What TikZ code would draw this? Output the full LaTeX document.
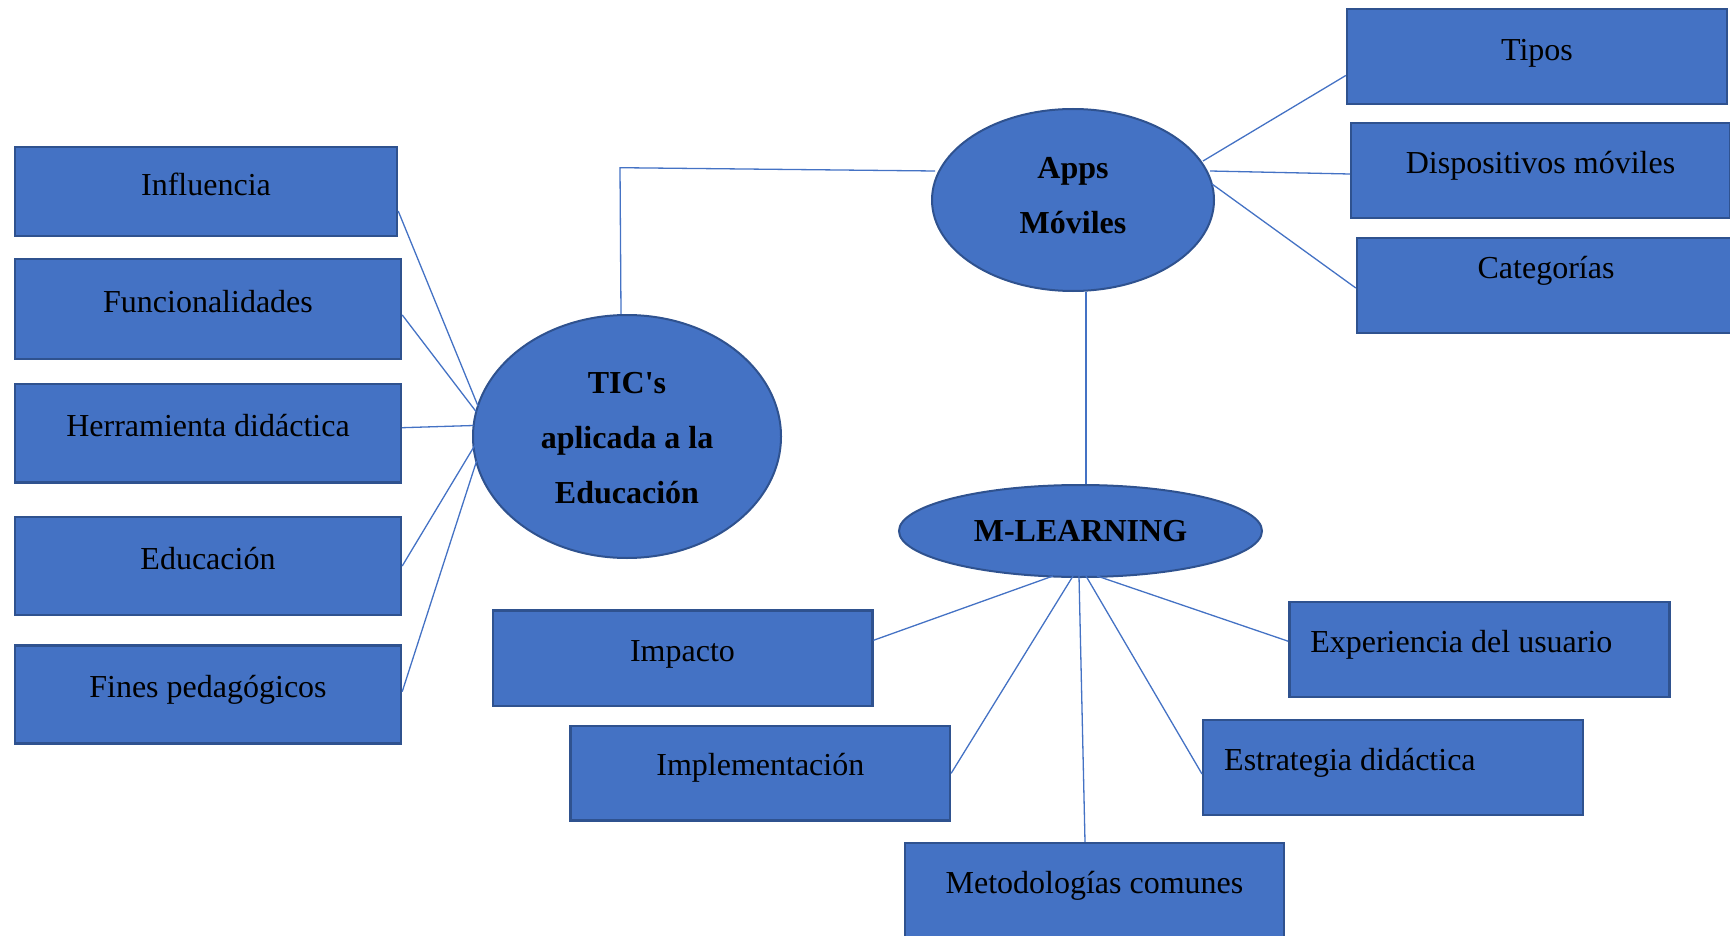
\documentclass[tikz,border=0pt]{standalone}
\usepackage{fontspec}
\setmainfont{Liberation Serif}
\newfontfamily\docfont{Liberation Serif}
\usetikzlibrary{shapes.geometric,calc}

\definecolor{fillblue}{HTML}{4472C4}
\definecolor{edgeblue}{HTML}{2F528F}
\definecolor{linkblue}{HTML}{4472C4}

\tikzset{
  topic/.style={rectangle, draw=edgeblue, fill=fillblue, line width=2.4pt, inner sep=0pt},
  hub/.style={ellipse, draw=edgeblue, fill=fillblue, line width=2pt, inner sep=0pt},
  txt/.style={anchor=base, inner sep=0pt, font=\docfont\fontsize{32}{38}\selectfont},
  boldtxt/.style={txt, font=\docfont\fontsize{32}{38}\selectfont\bfseries},
  link/.style={draw=linkblue, line width=1.3pt}
}

\begin{document}
\begin{tikzpicture}[x=1pt, y=-1pt]
\useasboundingbox (0,0) rectangle (1730,936);
\clip (0,0) rectangle (1730,936);

% ---- central hubs ----
\node[hub, minimum width=308pt, minimum height=243pt] (tic) at (627,436.5) {};
\node[hub, minimum width=282pt, minimum height=182pt] (apps) at (1073,200) {};
\node[hub, minimum width=363pt, minimum height=92pt] (mlearn) at (1080.5,531) {};

% ---- left topics ----
\node[topic, minimum width=382pt, minimum height=89pt]   (infl)  at (206,191.3) {};
\node[topic, minimum width=386pt, minimum height=99.7pt] (func)  at (208,308.9) {};
\node[topic, minimum width=386pt, minimum height=98.5pt] (herr)  at (208,433.3) {};
\node[topic, minimum width=386pt, minimum height=98.5pt] (educ)  at (208,566) {};
\node[topic, minimum width=386pt, minimum height=98pt]   (fines) at (208,694.3) {};

% ---- right topics ----
\node[topic, minimum width=380pt, minimum height=95pt] (tipos) at (1537,56.5) {};
\node[topic, minimum width=379pt, minimum height=95pt] (disp)  at (1540.5,170.5) {};
\node[topic, minimum width=378pt, minimum height=95pt] (cat)   at (1546,285.5) {};

% ---- lower topics ----
\node[topic, minimum width=379.6pt, minimum height=95.3pt] (imp)   at (682.5,658.3) {};
\node[topic, minimum width=379.3pt, minimum height=94.7pt] (impl)  at (760.3,773.3) {};
\node[topic, minimum width=379pt, minimum height=95pt]     (metod) at (1094.5,890.5) {};
\node[topic, minimum width=380pt, minimum height=95pt]     (exper) at (1479.3,649.2) {};
\node[topic, minimum width=380pt, minimum height=95pt]     (estr)  at (1393.2,767.5) {};

% ---- connectors: TIC's ----
\draw[link] ($(infl.east)+(0,19.7)$)  -- ($(tic.center)+(-149,-30.5)$);
\draw[link] ($(func.east)+(0,6)$)     -- ($(tic.center)+(-151,-25)$);
\draw[link] ($(herr.east)+(0,-5.6)$)  -- ($(tic.center)+(-153.5,-11)$);
\draw[link] ($(educ.east)+(0,0)$)     -- ($(tic.center)+(-152,8.5)$);
\draw[link] ($(fines.east)+(0,-2.6)$) -- ($(tic.center)+(-150.4,24.5)$);

\coordinate (bend) at (620,167.7);
\draw[link] ($(tic.north)+(-6,0)$) -- (bend) -- ($(apps.center)+(-138,-29)$);

% ---- connectors: Apps Móviles ----
\draw[link] ($(apps.center)+(130,-39)$) -- ($(tipos.west)+(0,19)$);
\draw[link] ($(apps.center)+(137,-29)$) -- ($(disp.west)+(0,3.5)$);
\draw[link] ($(apps.center)+(139,-16)$) -- ($(cat.west)+(0,2.5)$);
\draw[link] ($(apps.south)+(13,0)$) -- ($(mlearn.north)+(5.5,0)$);

% ---- connectors: M-LEARNING ----
\draw[link] ($(mlearn.center)+(-27.5,45)$) -- ($(imp.east)+(0,-18)$);
\draw[link] ($(mlearn.center)+(-7.5,45)$)  -- (impl.east);
\draw[link] ($(mlearn.center)+(-1.5,45)$)  -- ($(metod.north)+(-9.5,0)$);
\draw[link] ($(mlearn.center)+(5.5,45)$)   -- ($(estr.west)+(0,6.5)$);
\draw[link] ($(mlearn.center)+(16.5,45)$)  -- ($(exper.west)+(0,-8)$);

% ---- hub captions ----
\node[boldtxt] (tic-1) at ($(tic.center)+(0,-43)$) {TIC's};
\node[boldtxt] (tic-2) at ($(tic.center)+(0,12)$) {aplicada a la};
\node[boldtxt] (tic-3) at ($(tic.center)+(0,67)$) {Educación};
\node[boldtxt] (apps-1) at ($(apps.center)+(0,-21)$) {Apps};
\node[boldtxt] (apps-2) at ($(apps.center)+(0,33.5)$) {Móviles};
\node[boldtxt] (mlearn-1) at ($(mlearn.center)+(0,10)$) {M-LEARNING};

% ---- topic captions ----
\node[txt] (infl-t)  at ($(infl.north)+(0,50)$)  {Influencia};
\node[txt] (func-t)  at ($(func.north)+(0,54.5)$) {Funcionalidades};
\node[txt] (herr-t)  at ($(herr.north)+(0,53.2)$) {Herramienta didáctica};
\node[txt] (educ-t)  at ($(educ.north)+(0,53.8)$) {Educación};
\node[txt] (fines-t) at ($(fines.north)+(0,53.2)$) {Fines pedagógicos};

\node[txt] (tipos-t) at ($(tipos.north)+(0,53)$)   {Tipos};
\node[txt] (disp-t)  at ($(disp.north)+(0,51.5)$)  {Dispositivos móviles};
\node[txt] (cat-t)   at ($(cat.north)+(0,42)$)     {Categorías};

\node[txt] (imp-t)   at ($(imp.north)+(0,52.5)$)   {Impacto};
\node[txt] (impl-t)  at ($(impl.north)+(0,51)$)  {Implementación};
\node[txt] (metod-t) at ($(metod.north)+(0,51.5)$) {Metodologías comunes};
\node[txt, anchor=base west] (exper-t) at ($(exper.north west)+(22,51.5)$) {Experiencia del usuario};
\node[txt, anchor=base west] (estr-t)  at ($(estr.north west)+(22,51.5)$)  {Estrategia didáctica};
\end{tikzpicture}
\end{document}
